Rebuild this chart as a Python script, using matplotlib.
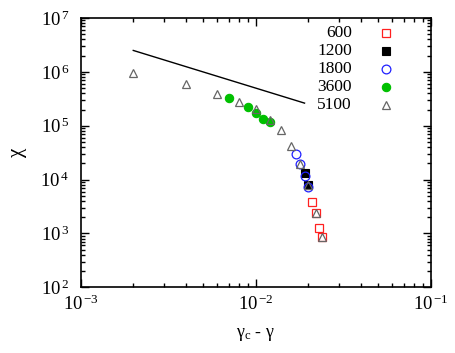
"""Susceptibility chi vs distance to critical shear rate, several system sizes."""

import math

import matplotlib

matplotlib.use("Agg")
import matplotlib.pyplot as plt
from matplotlib.ticker import LogLocator, FuncFormatter, NullFormatter

plt.rcParams["font.family"] = ["Liberation Serif", "DejaVu Serif"]
plt.rcParams["mathtext.fontset"] = "custom"
plt.rcParams["mathtext.rm"] = "Liberation Serif"
plt.rcParams["mathtext.it"] = "Liberation Serif:italic"

# data (x = gamma_c - gamma, y = chi)
X_600 = [0.021, 0.022, 0.023, 0.024]
Y_600 = [3.9e3, 2.4e3, 1.28e3, 850]

X_1200 = [0.019, 0.020]
Y_1200 = [1.31e4, 8.1e3]

X_1800 = [0.017, 0.018, 0.019, 0.020]
Y_1800 = [2.95e4, 1.95e4, 1.17e4, 7.4e3]

X_3600 = [0.007, 0.009, 0.010, 0.011, 0.012]
Y_3600 = [3.23e5, 2.26e5, 1.70e5, 1.32e5, 1.16e5]

X_5100 = [0.002, 0.004, 0.006, 0.008, 0.010, 0.012, 0.014, 0.016, 0.018,
          0.020, 0.022, 0.024]
Y_5100 = [9.6e5, 5.95e5, 3.88e5, 2.79e5, 2.02e5, 1.28e5, 8.3e4, 4.2e4,
          1.95e4, 7.9e3, 2.37e3, 850]

# guide line, slope -1
LINE_X = [0.002, 0.019]
LINE_Y = [2.5e6, 2.63e5]

LABELS = ["600", "1200", "1800", "3600", "5100"]


def log_label(v, pos):
    e = int(round(math.log10(v)))
    return r"$\mathrm{10}^{\,\mathrm{%d}}$" % e


def main():
    fig = plt.figure(figsize=(4.55, 3.53), dpi=100)
    ax = fig.add_axes([0.177, 0.186, 0.770, 0.763])

    styles = [
        dict(marker="s", ms=6.3, mfc="none", mec="#ff2020", mew=0.9),
        dict(marker="s", ms=5.6, mfc="black", mec="black", mew=0.8),
        dict(marker="o", ms=6.3, mfc="none", mec="#2020ff", mew=0.9),
        dict(marker="o", ms=6.0, mfc="#00c000", mec="#00c000", mew=0.8),
        dict(marker="^", ms=6.0, mfc="none", mec="#666666", mew=0.9),
    ]
    series = [(X_600, Y_600), (X_1200, Y_1200), (X_1800, Y_1800),
              (X_3600, Y_3600), (X_5100, Y_5100)]

    for (xs, ys), st in zip(series, styles):
        ax.plot(xs, ys, ls="none", **st)

    ax.plot(LINE_X, LINE_Y, color="black", lw=1.0)

    ax.set_xscale("log")
    ax.set_yscale("log")
    ax.set_xlim(1e-3, 1e-1)
    ax.set_ylim(1e2, 1e7)

    for axis in (ax.xaxis, ax.yaxis):
        axis.set_major_locator(LogLocator(base=10, numticks=10))
        axis.set_minor_locator(LogLocator(base=10, subs=range(2, 10), numticks=10))
        axis.set_major_formatter(FuncFormatter(log_label))
        axis.set_minor_formatter(NullFormatter())

    ax.tick_params(which="both", direction="in", top=True, right=True,
                   labelsize=13.5, width=1.0)
    ax.tick_params(which="major", length=6)
    ax.tick_params(which="minor", length=3)
    ax.tick_params(axis="x", pad=5)
    ax.tick_params(axis="y", pad=8)
    for sp in ax.spines.values():
        sp.set_linewidth(1.2)

    ax.set_xlabel("γ$_\\mathrm{c}$ - γ", fontsize=13, labelpad=9)
    ax.set_ylabel("χ", fontsize=15, labelpad=10)

    # key in the top right corner, labels right-aligned, marker on the right
    for i, (lab, st) in enumerate(zip(LABELS, styles)):
        yk = 0.945 - i * 0.0668
        ax.text(0.774, yk, lab, transform=ax.transAxes, ha="right",
                va="center", fontsize=12.5)
        ax.plot([0.872], [yk], transform=ax.transAxes, ls="none", **st)

    fig.savefig("out.png", dpi=100)
    plt.close(fig)


if __name__ == "__main__":
    main()
